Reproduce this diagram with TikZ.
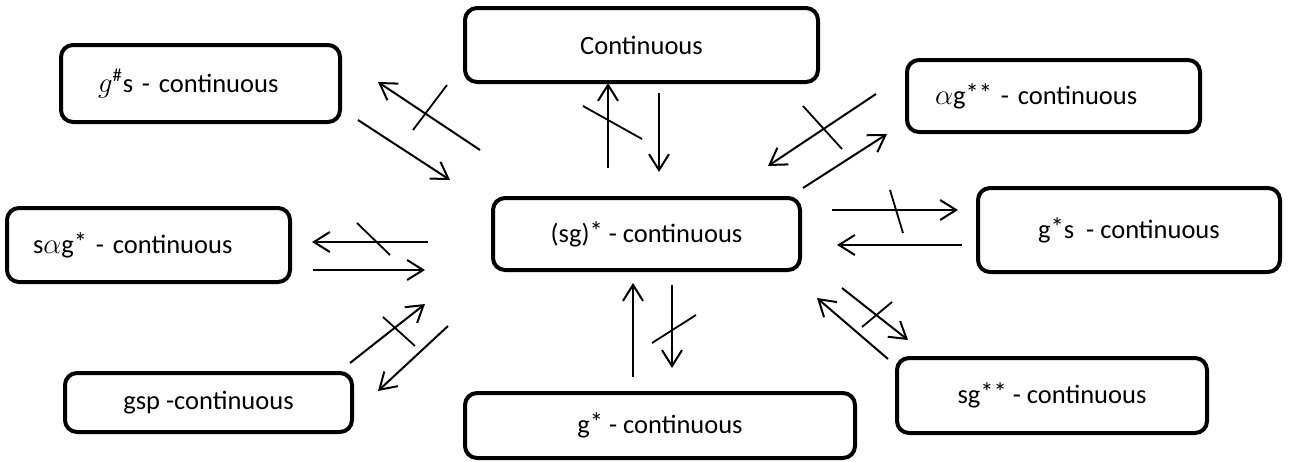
\documentclass[tikz,border=0pt]{standalone}
\usepackage{fontspec}
\setmainfont{Carlito}
\usepackage{amsmath}
\usetikzlibrary{arrows.meta}

\newcommand\hstar{\raisebox{0.15ex}{*}}
\tikzset{
  cbox/.style={draw, line width=2pt, rounded corners=6pt, inner sep=0pt,
    font=\fontsize{13.25}{16}\selectfont},
  imp/.style={line width=1pt, -{Straight Barb[length=8pt,width=10pt,line width=1pt]}},
  nimp/.style={line width=0.9pt},
}

\begin{document}
\begin{tikzpicture}[x=0.5pt,y=-0.5pt]
\useasboundingbox (0,0) rectangle (1290,461);
% Drawing boxes
\node[cbox, minimum width=176.5pt, minimum height=37pt] (cont) at (641.5,45) {Continuous};
\node[cbox, minimum width=139.5pt, minimum height=38.5pt, text width=102.5pt, align=left] (gs) at (200.5,83.5) {$g^{\#}$s - continuous};
\node[cbox, minimum width=146.5pt, minimum height=36pt, text width=118.5pt, align=left] (ag) at (1053.5,96) {$\alpha$g\hstar\hstar{} - continuous};
\node[cbox, minimum width=153.5pt, minimum height=36pt] (sc) at (646.5,234) {(sg)\hstar{} - continuous};
\node[cbox, minimum width=151pt, minimum height=42pt] (gss) at (1129,230) {g\hstar s\ \ - continuous};
\node[cbox, minimum width=141.5pt, minimum height=37pt, text width=115.5pt, align=left] (sag) at (148.5,245) {s$\alpha$g\hstar{} - continuous};
\node[cbox, minimum width=143.5pt, minimum height=29.5pt] (gsp) at (208.5,402.5) {gsp -continuous};
\node[cbox, minimum width=195pt, minimum height=32.5pt] (gst) at (660,425.5) {g\hstar{} - continuous};
\node[cbox, minimum width=155pt, minimum height=37.5pt] (sgg) at (1052,395.5) {sg\hstar\hstar{} - continuous};
% Arrow ends
\coordinate (gs-o) at (358,120); \coordinate (gs-i) at (378,82);
\coordinate (sc-gs-i) at (450,180); \coordinate (sc-gs-o) at (480,150);
\coordinate (sc-cont-o) at (608,168); \coordinate (cont-i) at (608,83);
\coordinate (cont-o) at (659,93); \coordinate (sc-cont-i) at (659,172);
\coordinate (ag-o) at (876,94); \coordinate (sc-ag-i) at (768,166);
\coordinate (sc-ag-o) at (803,188); \coordinate (ag-i) at (887,134);
\coordinate (sc-gss-o) at (832,210); \coordinate (gss-i) at (958,210);
\coordinate (gss-o) at (962,245); \coordinate (sc-gss-i) at (837,245);
\coordinate (sc-sgg-o) at (842,288); \coordinate (sgg-i) at (908,340);
\coordinate (sgg-o) at (888,359); \coordinate (sc-sgg-i) at (817,298);
\coordinate (sc-gst-o) at (672,285); \coordinate (gst-i) at (672,368);
\coordinate (gst-o) at (633,377); \coordinate (sc-gst-i) at (633,283);
\coordinate (gsp-o) at (350,363); \coordinate (sc-gsp-i) at (425,304);
\coordinate (sc-gsp-o) at (448,326); \coordinate (gsp-i) at (378,391);
\coordinate (sc-sag-o) at (428,242); \coordinate (sag-i) at (312,242);
\coordinate (sag-o) at (313,270); \coordinate (sc-sag-i) at (425,270);
% Implications
\draw[imp] (gs-o) -- (sc-gs-i);
\draw[imp] (sc-gs-o) -- (gs-i);
\draw[imp] (sc-cont-o) -- (cont-i);
\draw[imp] (cont-o) -- (sc-cont-i);
\draw[imp] (ag-o) -- (sc-ag-i);
\draw[imp] (sc-ag-o) -- (ag-i);
\draw[imp] (sc-gss-o) -- (gss-i);
\draw[imp] (gss-o) -- (sc-gss-i);
\draw[imp] (sc-sgg-o) -- (sgg-i);
\draw[imp] (sgg-o) -- (sc-sgg-i);
\draw[imp] (sc-gst-o) -- (gst-i);
\draw[imp] (gst-o) -- (sc-gst-i);
\draw[imp] (gsp-o) -- (sc-gsp-i);
\draw[imp] (sc-gsp-o) -- (gsp-i);
\draw[imp] (sc-sag-o) -- (sag-i);
\draw[imp] (sag-o) -- (sc-sag-i);
% Strokes through the non-implications
\draw[nimp] (447,85) -- (413,130);
\draw[nimp] (583,106) -- (642,139);
\draw[nimp] (803,106) -- (842,149);
\draw[nimp] (890,190) -- (903,233);
\draw[nimp] (892,302) -- (862,327);
\draw[nimp] (652,343) -- (696,315);
\draw[nimp] (383,317) -- (415,346);
\draw[nimp] (357,223) -- (390,255);
\end{tikzpicture}
\end{document}
